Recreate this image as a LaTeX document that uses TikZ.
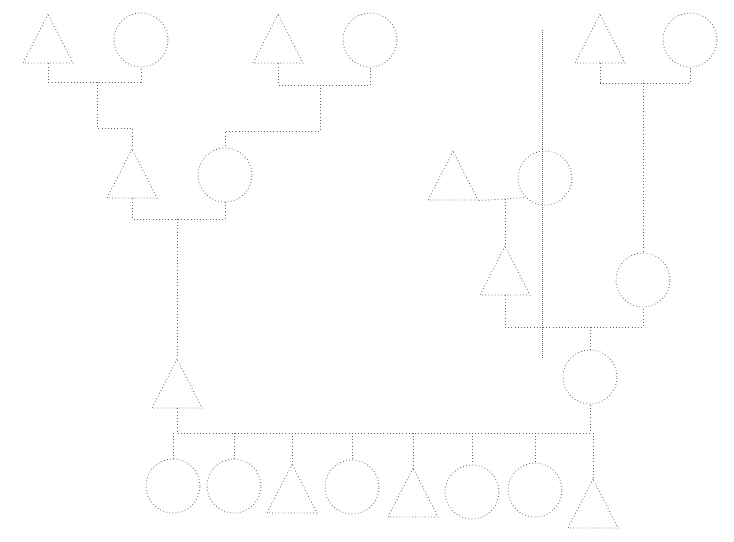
\documentclass[tikz,border=0pt]{standalone}
\usepackage{tikz}
\usetikzlibrary{shapes.geometric}

\begin{document}
\begin{tikzpicture}[
    x=0.03cm, y=-0.03cm,
    line/.style={black!60, dotted, line width=0.7pt},
    male/.style={line, draw, isosceles triangle, shape border rotate=90,
      isosceles triangle stretches, minimum width=1.5cm, minimum height=1.47cm,
      inner sep=0pt, anchor=apex},
    female/.style={line, draw, circle, minimum size=1.62cm, inner sep=0pt},
  ]
  \useasboundingbox (0,0) rectangle (734,542);

  % ── Nodes ────────────────────────────────────────────────────────────────

  % Top row
  \node[male]   (A1) at ( 48, 13) {};
  \node[female] (C1) at (141, 40) {};
  \node[male]   (A2) at (278, 13) {};
  \node[female] (C2) at (370, 40) {};
  \node[male]   (A6) at (600, 13) {};
  \node[female] (C6) at (690, 40) {};

  % Second row
  \node[male]   (A3) at (132,148) {};
  \node[female] (C4) at (225,175) {};
  \node[male]   (A7) at (453,150) {};
  \node[female] (C8) at (545,178) {};

  % Third row
  \node[male]   (A8) at (505,245) {};
  \node[female] (C7) at (643,280) {};

  % Fourth row
  \node[male]   (A5) at (177,358) {};
  \node[female] (C9) at (590,377) {};

  % Children
  \node[female] (K1) at (173,486) {};
  \node[female] (K2) at (234,486) {};
  \node[male]   (K3) at (292,463) {};
  \node[female] (K4) at (352,487) {};
  \node[male]   (K5) at (413,467) {};
  \node[female] (K6) at (472,492) {};
  \node[female] (K7) at (535,490) {};
  \node[male]   (K8) at (593,478) {};

  % Junctions
  \coordinate (m1) at ( 97, 82);
  \coordinate (m2) at (320, 85);
  \coordinate (m3) at (177,219);
  \coordinate (m6) at (643, 83);
  \coordinate (m7) at (505,199);
  \coordinate (m8) at (590,327);
  \coordinate (m5) at (380,433);
  \coordinate (vt) at (542, 30);
  \coordinate (vb) at (542,358);

  % ── Edges ────────────────────────────────────────────────────────────────

  % A1 -- C1, child A3
  \draw[line] (A1.lower side) |- (m1) -| (C1.south);
  \draw[line] (m1) -- ++(0,46) -| (A3.apex);

  % A2 -- C2, child C4
  \draw[line] (A2.lower side) |- (m2) -| (C2.south);
  \draw[line] (m2) -- ++(0,46) -| (C4.north);

  % A3 -- C4, child A5
  \draw[line] (A3.lower side) |- (m3) -| (C4.south);
  \draw[line] (m3) -- (A5.apex);

  % A6 -- C6, child C7
  \draw[line] (A6.lower side) |- (m6) -| (C6.south);
  \draw[line] (m6) -- (C7.north);

  % A7 -- C8, child A8
  \draw[line] (A7.right corner) -- (m7) -- (C8.south west);
  \draw[line] (m7) -- (A8.apex);

  % A8 -- C7, child C9
  \draw[line] (A8.lower side) |- (m8) -| (C7.south);
  \draw[line] (m8) -- (C9.north);

  % A5 -- C9, children
  \draw[line] (A5.lower side) |- (m5) -| (C9.south);
  \foreach \k/\a in {K1/north, K2/north, K3/apex, K4/north,
                     K5/apex, K6/north, K7/north, K8/apex}
    \draw[line] (\k.\a |- m5) -- (\k.\a);

  % long vertical
  \draw[line, densely dotted] (vt) -- (vb);

\end{tikzpicture}
\end{document}
